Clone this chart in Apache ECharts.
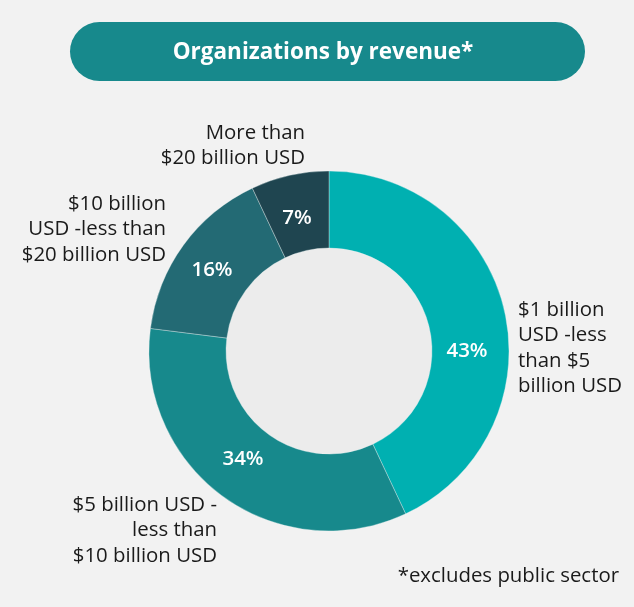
<!DOCTYPE html>
<html>
<head>
<meta charset="utf-8">
<title>Organizations by revenue</title>
<script src="https://cdn.jsdelivr.net/npm/echarts@6/dist/echarts.min.js"></script>
<style>
  html, body { margin: 0; padding: 0; background: #f2f2f2; }
  #chart { width: 634px; height: 607px; }
</style>
</head>
<body>
<div id="chart"></div>
<script>
// Revenue bands (clockwise from 12 o'clock) and their share of organizations, in percent
const categories = [
  '$1 billion\nUSD -less\nthan $5\nbillion USD',
  '$5 billion USD -\nless than\n$10 billion USD',
  '$10 billion\nUSD -less than\n$20 billion USD',
  'More than\n$20 billion USD'
];
const shares = [43, 34, 16, 7];
const sliceColors = ['#00b0b1', '#17898c', '#236a74', '#1f4550'];
const titleText = 'Organizations by revenue*';
const footnote = '*excludes public sector';

const FONT = '"Open Sans", "Noto Sans", sans-serif';
const center = [329, 351];

// percentage placement inside the ring: offset from the centre
const pctSpots = [
  [138, 0],
  [-86, 108],
  [-117, -81],
  [-32, -133]
];

// where each band's name sits around the ring
const nameSpots = [
  { x: 518, y: 297, align: 'left' },
  { x: 217, y: 492, align: 'right' },
  { x: 166, y: 191, align: 'right' },
  { x: 305, y: 120, align: 'right' }
];

const chart = echarts.init(document.getElementById('chart'), null, { renderer: 'canvas' });

const graphics = [
  {
    type: 'rect',
    shape: { x: 70, y: 22, width: 515, height: 59, r: 29.5 },
    style: { fill: '#17898c' },
    z: 1
  },
  {
    type: 'text',
    x: 323, y: 53,
    style: {
      text: titleText,
      fill: '#ffffff',
      font: 'bold 22.5px ' + FONT,
      align: 'center',
      verticalAlign: 'middle'
    },
    z: 2
  },
  {
    type: 'circle',
    shape: { cx: center[0], cy: center[1], r: 103 },
    style: { fill: '#ececec' },
    z: 0
  },
  {
    type: 'text',
    x: 619, y: 576,
    style: {
      text: footnote,
      fill: '#1a1a1a',
      font: '20.4px ' + FONT,
      align: 'right',
      verticalAlign: 'middle'
    }
  }
];

categories.forEach(function (name, i) {
  graphics.push({
    type: 'text',
    x: nameSpots[i].x,
    y: nameSpots[i].y,
    style: {
      text: name,
      fill: '#1a1a1a',
      font: '20.4px ' + FONT,
      lineHeight: 25.5,
      align: nameSpots[i].align,
      verticalAlign: 'top'
    }
  });
});

chart.setOption({
  backgroundColor: '#f2f2f2',
  animation: false,
  graphic: graphics,
  series: [
    {
      type: 'pie',
      center: center,
      radius: [103, 180],
      startAngle: 90,
      clockwise: true,
      silent: true,
      z: 3,
      itemStyle: { borderColor: 'rgba(230,240,240,0.6)', borderWidth: 0.6 },
      label: {
        show: true,
        position: 'inside',
        color: '#ffffff',
        fontFamily: FONT,
        fontSize: 20.5,
        fontWeight: 600,
        formatter: function (p) { return p.value + '%'; }
      },
      labelLayout: function (p) {
        const off = pctSpots[p.dataIndex];
        return { x: center[0] + off[0], y: center[1] + off[1] };
      },
      labelLine: { show: false },
      data: shares.map(function (v, i) {
        return { name: categories[i], value: v, itemStyle: { color: sliceColors[i] } };
      })
    }
  ]
});
</script>
</body>
</html>
